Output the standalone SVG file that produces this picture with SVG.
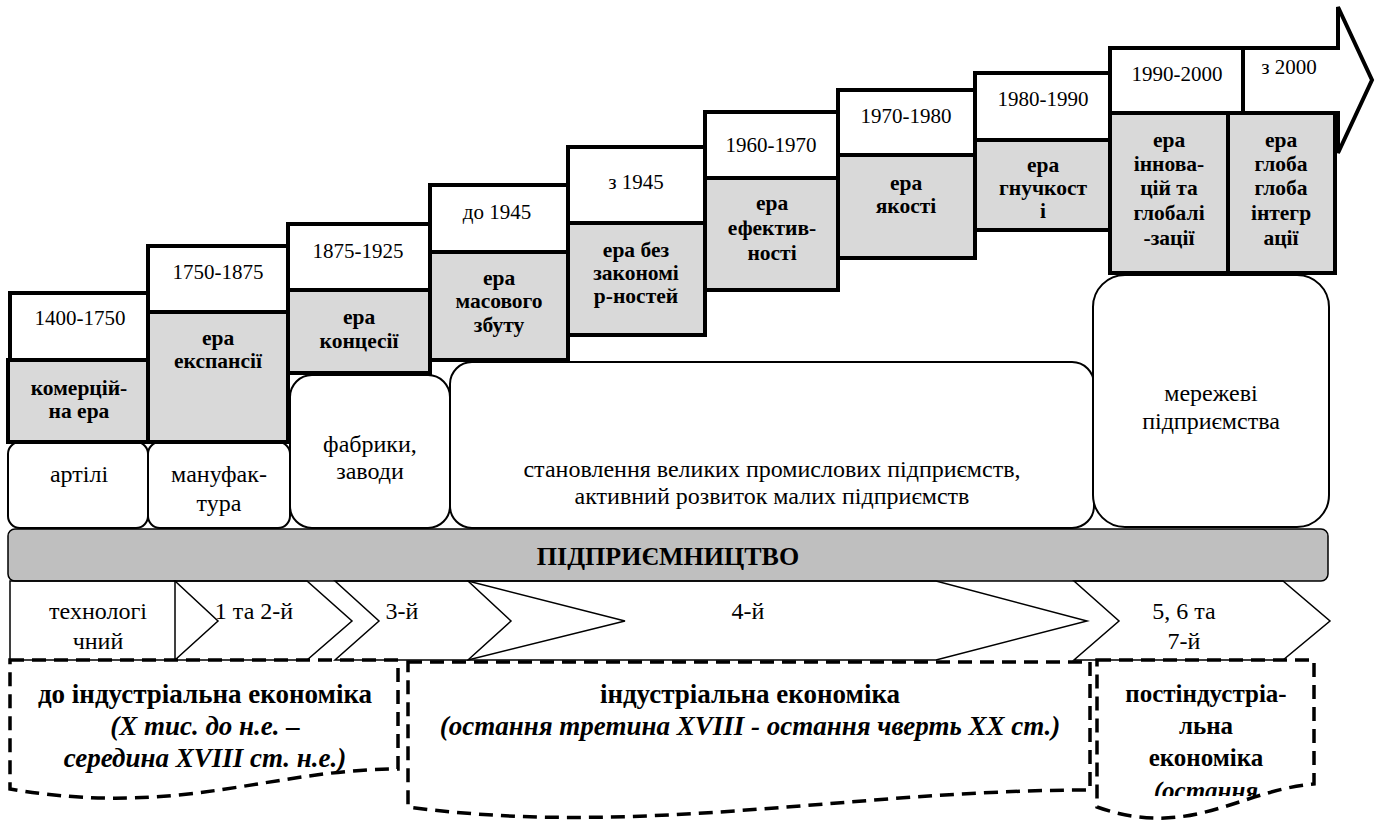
<svg xmlns="http://www.w3.org/2000/svg" width="1378" height="830" viewBox="0 0 1378 830">
<defs>
<style>
text{font-family:'Liberation Serif','Times New Roman',serif;fill:#000;text-anchor:middle}
.d{font-size:21px}
.e{font-size:21.5px;font-weight:bold}
.r{font-size:24px}
.b{font-size:27px;font-weight:bold}
.bi{font-size:27px;font-weight:bold;font-style:italic}
.b3{font-size:25px;font-weight:bold}
.bi3{font-size:25px;font-weight:bold;font-style:italic}
.bar{font-size:26px;font-weight:bold}
.date{fill:#fff;stroke:#000;stroke-width:4}
.era{fill:#d9d9d9;stroke:#000;stroke-width:4}
.rnd{fill:#fff;stroke:#000;stroke-width:2}
.chev{fill:none;stroke:#000;stroke-width:1.5}
.dash{fill:none;stroke:#000;stroke-width:3.5;stroke-dasharray:14 8}
</style>
<clipPath id="clip3"><rect x="1095" y="660" width="225" height="136"/></clipPath>
</defs>
<rect width="1378" height="830" fill="#fff"/>
<g font-family="Liberation Serif, Times New Roman, serif">

<g id="ent-artili"><rect class="rnd" x="8" y="442" width="140" height="86" rx="12"/><text class="r" x="79" y="482">артілі</text></g>
<g id="ent-manuf"><rect class="rnd" x="148" y="442" width="142" height="86" rx="12"/><text class="r" x="219" y="482">мануфак-</text><text class="r" x="219" y="511">тура</text></g>
<g id="ent-fabr"><rect class="rnd" x="290" y="375" width="160" height="153" rx="22"/><text class="r" x="370" y="452">фабрики,</text><text class="r" x="370" y="479">заводи</text></g>
<g id="ent-big"><rect class="rnd" x="450" y="362" width="644" height="166" rx="22"/><text class="r" x="772" y="477">становлення великих промислових підприємств,</text><text class="r" x="772" y="504">активний розвиток малих підприємств</text></g>
<g id="ent-net"><rect class="rnd" x="1093" y="275" width="236" height="252" rx="32"/><text class="r" x="1211" y="401">мережеві</text><text class="r" x="1211" y="429">підприємства</text></g>

<g id="col10-date"><path class="date" d="M1243,48 H1338 V7 L1372,80 L1338,153 V113 H1243 Z"/><text class="d" x="1289" y="74">з 2000</text></g>

<g id="col1"><rect class="date" x="10" y="293" width="138" height="67"/><text class="d" x="80" y="325">1400-1750</text>
<rect class="era" x="8" y="360" width="140" height="82"/><text class="e" x="79" y="395">комерцій-</text><text class="e" x="79" y="418">на ера</text></g>
<g id="col2"><rect class="date" x="148" y="246" width="140" height="66"/><text class="d" x="218" y="279">1750-1875</text>
<rect class="era" x="148" y="312" width="140" height="130"/><text class="e" x="218" y="345">ера</text><text class="e" x="218" y="368">експансії</text></g>
<g id="col3"><rect class="date" x="288" y="224" width="142" height="66"/><text class="d" x="358" y="258">1875-1925</text>
<rect class="era" x="288" y="290" width="142" height="83"/><text class="e" x="359" y="324">ера</text><text class="e" x="359" y="348">концесії</text></g>
<g id="col4"><rect class="date" x="430" y="185" width="138" height="67"/><text class="d" x="497" y="219">до 1945</text>
<rect class="era" x="430" y="252" width="138" height="108"/><text class="e" x="499" y="285">ера</text><text class="e" x="499" y="308">масового</text><text class="e" x="499" y="332">збуту</text></g>
<g id="col5"><rect class="date" x="568" y="147" width="137" height="76"/><text class="d" x="636" y="189">з 1945</text>
<rect class="era" x="568" y="223" width="137" height="112"/><text class="e" x="636" y="257">ера без</text><text class="e" x="636" y="280">закономі</text><text class="e" x="636" y="303">р-ностей</text></g>
<g id="col6"><rect class="date" x="705" y="112" width="133" height="66"/><text class="d" x="771" y="152">1960-1970</text>
<rect class="era" x="705" y="178" width="133" height="112"/><text class="e" x="772" y="210">ера</text><text class="e" x="772" y="235">ефектив-</text><text class="e" x="772" y="260">ності</text></g>
<g id="col7"><rect class="date" x="838" y="90" width="137" height="65"/><text class="d" x="906" y="123">1970-1980</text>
<rect class="era" x="838" y="155" width="137" height="103"/><text class="e" x="906" y="190">ера</text><text class="e" x="906" y="213">якості</text></g>
<g id="col8"><rect class="date" x="975" y="73" width="135" height="67"/><text class="d" x="1043" y="106">1980-1990</text>
<rect class="era" x="975" y="140" width="135" height="90"/><text class="e" x="1043" y="172">ера</text><text class="e" x="1043" y="195">гнучкост</text><text class="e" x="1043" y="218">і</text></g>
<g id="col9"><rect class="date" x="1110" y="48" width="133" height="65"/><text class="d" x="1177" y="81">1990-2000</text>
<rect class="era" x="1110" y="113" width="118" height="160"/><text class="e" x="1169" y="147">ера</text><text class="e" x="1169" y="171">іннова-</text><text class="e" x="1169" y="195">цій та</text><text class="e" x="1169" y="220">глобалі</text><text class="e" x="1169" y="245">-зації</text></g>
<g id="col10"><rect class="era" x="1228" y="113" width="107" height="160"/><text class="e" x="1281" y="147">ера</text><text class="e" x="1281" y="171">глоба</text><text class="e" x="1281" y="195">глоба</text><text class="e" x="1281" y="220">інтегр</text><text class="e" x="1281" y="245">ації</text></g>

<g id="bar"><rect x="8" y="529" width="1320" height="52" rx="7" fill="#bfbfbf" stroke="#000" stroke-width="1.5"/><text class="bar" x="668" y="565">ПІДПРИЄМНИЦТВО</text></g>

<g id="tech"><rect class="chev" x="10" y="581" width="165" height="79"/><text class="r" x="98" y="619">технологі</text><text class="r" x="98" y="649">чний</text></g>
<g id="stage12"><path class="chev" d="M175,581 H307 L352,621 L307,660 H175 L218,621 Z"/><text class="r" x="254" y="619">1 та 2-й</text></g>
<g id="stage4"><path class="chev" d="M468,581 H936 L1087,621 L936,660 H468 L511,621 Z"/><text class="r" x="748" y="619">4-й</text></g>
<g id="stage3"><path class="chev" d="M335,581 H468 L625,621 L468,660 H335 L379,621 Z"/><text class="r" x="402" y="619">3-й</text></g>
<g id="stage567"><path class="chev" d="M1074,581 H1283 L1330,621 L1283,660 H1074 L1119,621 Z"/><text class="r" x="1184" y="619">5, 6 та</text><text class="r" x="1184" y="649">7-й</text></g>

<g id="econ-pre"><path class="dash" d="M10,660 H398 V769 C 270,769 180,818 10,789 Z"/>
<text class="b" x="205" y="703">до індустріальна економіка</text>
<text class="bi" x="205" y="735">(Х тис. до н.е. –</text>
<text class="bi" x="205" y="767">середина XVIII ст. н.е.)</text></g>
<g id="econ-ind"><path class="dash" d="M408,662 H1090 V790 C 850,790 640,838 408,807 Z"/>
<text class="b" x="750" y="703">індустріальна економіка</text>
<text class="bi" x="750" y="735">(остання третина XVIII - остання чверть XX ст.)</text></g>
<g id="econ-post"><path class="dash" d="M1097,660 H1314 V784 C 1240,790 1190,840 1097,807 Z"/>
<g clip-path="url(#clip3)">
<text class="b3" x="1206" y="702">постіндустріа-</text>
<text class="b3" x="1206" y="734">льна</text>
<text class="b3" x="1206" y="766">економіка</text>
<text class="bi3" x="1206" y="799">(остання</text></g></g>
</g>
</svg>
